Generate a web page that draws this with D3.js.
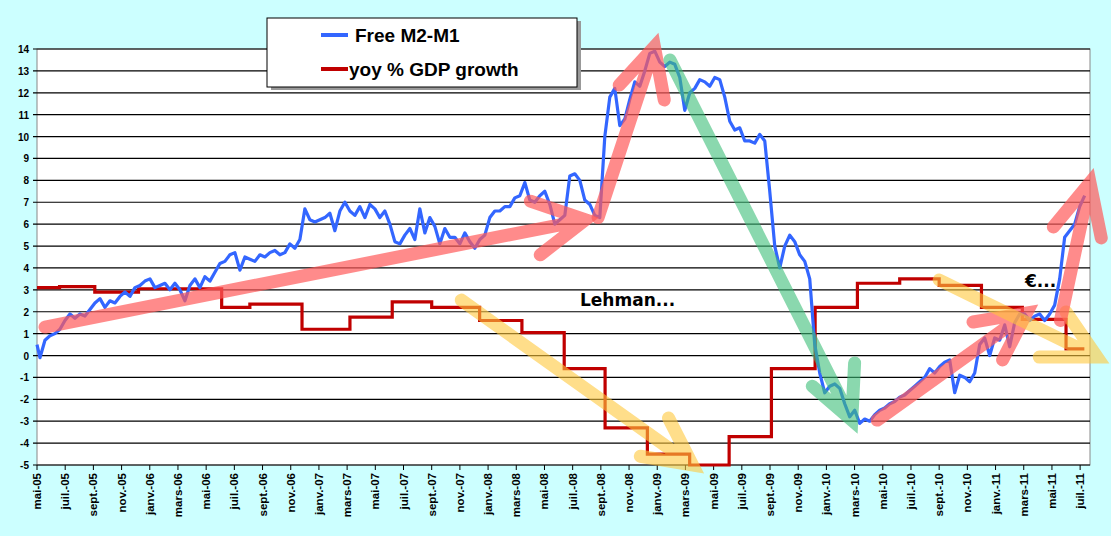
<!DOCTYPE html>
<html><head><meta charset="utf-8">
<script src="https://cdn.jsdelivr.net/npm/d3@7"></script>
<style>body{margin:0;background:#ccffff}svg{display:block}</style>
</head><body><svg></svg>
<script>
// data: months since mai-05
const m2m1Start = 0.21, m2m1Step = 0.3546;
const m2m1 = [-0.1,0.7,0.9,1.0,1.2,1.6,1.9,1.7,1.9,1.8,2.1,2.4,2.6,2.2,2.5,2.4,2.7,2.9,2.7,3.1,3.2,3.4,3.5,3.1,3.2,3.3,3.0,3.3,3.0,2.5,3.2,3.5,3.1,3.6,3.4,3.8,4.2,4.3,4.6,4.7,3.9,4.5,4.4,4.3,4.6,4.5,4.7,4.8,4.6,4.7,5.1,4.9,5.3,6.7,6.2,6.1,6.2,6.3,6.5,5.7,6.6,7.0,6.6,6.4,6.8,6.3,6.9,6.7,6.3,6.6,6.0,5.2,5.1,5.5,5.8,5.3,6.7,5.6,6.3,5.9,5.1,5.8,5.4,5.4,5.1,5.6,5.2,4.9,5.3,5.5,6.3,6.6,6.6,6.8,6.8,7.2,7.3,7.9,7.1,7.0,7.3,7.5,6.9,6.0,6.2,6.4,8.2,8.3,8.0,7.1,6.9,6.4,6.3,10.0,11.8,12.2,10.5,10.8,11.7,12.5,12.3,13.0,13.8,13.9,13.4,13.2,13.4,13.3,12.7,11.2,12.0,12.2,12.6,12.5,12.3,12.7,12.6,11.8,10.7,10.3,10.4,9.8,9.8,9.7,10.1,9.8,7.5,5.0,4.0,5.0,5.5,5.2,4.6,4.3,3.5,0.5,-0.8,-1.7,-1.4,-1.3,-1.5,-2.2,-2.8,-2.5,-3.1,-2.9,-3.0,-2.7,-2.5,-2.4,-2.2,-2.1,-1.9,-1.8,-1.6,-1.4,-1.2,-1.0,-0.6,-0.8,-0.5,-0.3,-0.2,-1.7,-0.9,-1.0,-1.2,-0.8,0.5,0.8,0.0,0.8,0.7,1.4,0.4,1.5,1.9,1.9,1.6,1.8,1.9,1.6,1.9,2.3,3.5,5.4,5.7,6.0,6.8,7.3];
const gdp = [[0,3.1],[1.6,3.15],[4.1,2.9],[7.2,3.05],[13.1,2.2],[15.1,2.35],[18.8,1.2],[22.2,1.75],[25.2,2.45],[28.0,2.2],[31.4,1.6],[34.4,1.05],[37.4,-0.6],[40.3,-3.3],[43.3,-4.5],[46.3,-5],[49.1,-3.7],[52.1,-0.6],[55.2,2.2],[58.2,3.3],[61.2,3.5],[64.0,3.2],[67.0,2.2],[69.9,1.65],[73.0,0.3],[74.3,0.3]];
// arrows: start, tip, wing1, wing2
const arrows = [
  {c:"rgba(255,90,90,0.7)", p:[[0.57,1.3],[38.9,6.2],[35.0,7.05],[35.7,4.6]]},
  {c:"rgba(255,90,90,0.7)", p:[[39.8,6.3],[43.8,14.1],[41.3,12.35],[44.5,11.67]]},
  {c:"rgba(60,190,120,0.6)", p:[[44.9,13.5],[57.8,-2.95],[55.0,-1.4],[58.0,-0.34]]},
  {c:"rgba(255,200,60,0.6)", p:[[30.1,2.53],[46.5,-5],[42.8,-4.6],[44.8,-2.85]]},
  {c:"rgba(255,90,90,0.7)", p:[[59.6,-2.95],[70.2,1.94],[66.4,1.53],[68.5,-0.2]]},
  {c:"rgba(255,200,60,0.6)", p:[[64.0,3.45],[75.2,-0.07],[73.0,1.99],[71.1,-0.07]]},
  {c:"rgba(255,90,90,0.7)", p:[[72.6,1.6],[74.7,7.9],[72.1,5.87],[75.5,5.37]]}
];
const moisFr = ["janv.","févr.","mars","avr.","mai","juin","juil.","août","sept.","oct.","nov.","déc."];

const Width = 1111, Height = 536;
const svg = d3.select("svg").attr("width", Width).attr("height", Height);
svg.append("rect").attr("width", Width).attr("height", Height).attr("fill", "#ccffff");

const x = d3.scaleLinear().domain([0, 74.7]).range([37, 1090]);
const y = d3.scaleLinear().domain([-5, 14]).range([465, 49]);

svg.append("rect").attr("x", x(0)).attr("y", y(14)).attr("width", x(74.7) - x(0)).attr("height", y(-5) - y(14))
  .attr("fill", "white").attr("stroke", "#888");

// grid
svg.append("g").selectAll("line").data(d3.range(-5, 15)).join("line")
  .attr("x1", x(0) - 4).attr("x2", x(74.7)).attr("y1", d => y(d)).attr("y2", d => y(d))
  .attr("stroke", "black").attr("stroke-width", 1.2);
svg.append("g").selectAll("text").data(d3.range(-5, 15)).join("text")
  .attr("x", 29).attr("y", d => y(d) + 4).attr("text-anchor", "end")
  .style("font", "bold 10px 'Liberation Sans', Arial").text(d => d);

// x ticks
const months = d3.range(0, 75, 2);
svg.append("g").selectAll("line").data(months).join("line")
  .attr("x1", d => x(d)).attr("x2", d => x(d)).attr("y1", 465).attr("y2", 470).attr("stroke", "black");
svg.append("g").selectAll("text").data(months).join("text")
  .attr("transform", d => `translate(${x(d) + 4},473) rotate(-90)`).attr("text-anchor", "end")
  .style("font", "bold 11.5px 'Liberation Sans', Arial")
  .text(d => { const mm = (4 + d) % 12, yy = 5 + Math.floor((4 + d) / 12); return moisFr[mm] + "-" + String(yy).padStart(2, "0"); });

// series
const line = d3.line().x(d => x(d[0])).y(d => y(d[1]));
svg.append("path").datum(gdp).attr("d", line.curve(d3.curveStepAfter)).attr("fill", "none")
  .attr("stroke", "#c00000").attr("stroke-width", 3.2);
const m2Data = [[0, 0.5]].concat(m2m1.map((v, i) => [m2m1Start + i * m2m1Step, v]));
svg.append("path").datum(m2Data).attr("d", d3.line().x(d => x(d[0])).y(d => y(d[1]))).attr("fill", "none")
  .attr("stroke", "#3366ff").attr("stroke-width", 3.2).attr("stroke-linejoin", "round");

// arrows
arrows.forEach(a => {
  const [s, t, w1, w2] = a.p;
  svg.append("path")
    .attr("d", `M${x(s[0])},${y(s[1])}L${x(t[0])},${y(t[1])}M${x(w1[0])},${y(w1[1])}L${x(t[0])},${y(t[1])}L${x(w2[0])},${y(w2[1])}`)
    .attr("fill", "none").attr("stroke", a.c).attr("stroke-width", 13)
    .attr("stroke-linecap", "round").attr("stroke-linejoin", "miter");
});

svg.append("text").attr("x", 580).attr("y", 306).style("font", "bold 17px 'DejaVu Sans', sans-serif").text("Lehman...");
svg.append("text").attr("x", 1025).attr("y", 287).style("font", "bold 17px 'DejaVu Sans', sans-serif").text("€...");

// legend
const lg = svg.append("g");
lg.append("rect").attr("x", 271).attr("y", 21).attr("width", 310).attr("height", 69).attr("fill", "#999");
lg.append("rect").attr("x", 267).attr("y", 18).attr("width", 310).attr("height", 69).attr("fill", "white").attr("stroke", "black");
lg.append("line").attr("x1", 321).attr("x2", 348).attr("y1", 35).attr("y2", 35).attr("stroke", "#3366ff").attr("stroke-width", 4);
lg.append("line").attr("x1", 321).attr("x2", 348).attr("y1", 69).attr("y2", 69).attr("stroke", "#c00000").attr("stroke-width", 4);
lg.append("text").attr("x", 355).attr("y", 42).style("font", "bold 19px 'Liberation Sans', Arial").text("Free M2-M1");
lg.append("text").attr("x", 349).attr("y", 76).style("font", "bold 19px 'Liberation Sans', Arial").text("yoy % GDP growth");
</script></body></html>
